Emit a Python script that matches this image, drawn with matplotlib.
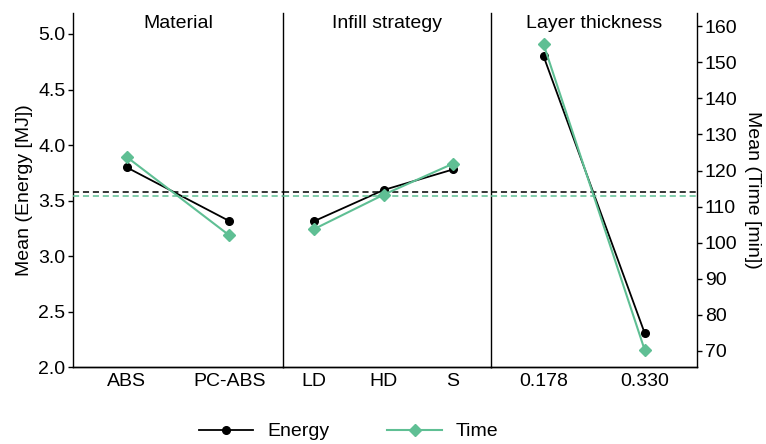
import matplotlib.pyplot as plt
from matplotlib.lines import Line2D

plt.rcParams['font.family'] = ['Liberation Sans', 'DejaVu Sans']

# factor levels
factors = ['Material', 'Infill strategy', 'Layer thickness']
levels = [['ABS', 'PC-ABS'], ['LD', 'HD', 'S'], ['0.178', '0.330']]

# mean energy [MJ] per level
energy = [[3.80, 3.315], [3.315, 3.595, 3.78], [4.80, 2.31]]
# mean time [min] per level
time = [[123.8, 102.0], [103.8, 113.3, 121.9], [155.0, 70.4]]

energy_mean = 3.58
time_mean = 112.9

black = '#000000'
green = '#5FBF94'
fs = 14

fig, axes = plt.subplots(1, 3, figsize=(7.66, 4.44), dpi=100, sharey=True,
                         gridspec_kw={'width_ratios': [210, 208, 206]})
fig.subplots_adjust(left=0.0953, right=0.91, top=0.971, bottom=0.173, wspace=0)

for i, ax in enumerate(axes):
    x = list(range(len(levels[i])))
    tw = ax.twinx()
    ax.plot(x, energy[i], color=black, marker='o', markersize=5.5, lw=1.3, zorder=3)
    tw.plot(x, time[i], color=green, marker='D', markersize=6, lw=1.5, zorder=3)
    ax.axhline(energy_mean, color=black, ls=(0, (4, 2.5)), lw=1.1)
    tw.axhline(time_mean, color=green, ls=(0, (4, 2.5)), lw=1.1)

    ax.set_ylim(2.0, 5.19)
    tw.set_ylim(65.5, 163.7)
    if len(x) == 2:
        ax.set_xlim(-0.52, 1.52)
    else:
        ax.set_xlim(-0.45, 2.55)
    ax.set_xticks(x)
    ax.set_xticklabels(levels[i])
    ax.tick_params(axis='x', length=0, pad=4, labelsize=fs)
    ax.text(0.5, 0.995, factors[i], transform=ax.transAxes, ha='center', va='top', fontsize=fs)

    for a in (ax, tw):
        a.spines['top'].set_visible(False)
        a.spines['left'].set_visible(False)
        a.spines['right'].set_visible(False)
        a.spines['bottom'].set_linewidth(1.0)
    tw.spines['right'].set_visible(True)
    tw.spines['right'].set_linewidth(1.0)

    if i == 0:
        ax.spines['left'].set_visible(True)
        ax.spines['left'].set_linewidth(1.0)
        ax.set_yticks([2.0, 2.5, 3.0, 3.5, 4.0, 4.5, 5.0])
        ax.set_yticklabels([f'{v:.1f}' for v in [2.0, 2.5, 3.0, 3.5, 4.0, 4.5, 5.0]])
        ax.tick_params(axis='y', length=3.5, width=1, pad=2, labelsize=fs)
        ax.set_ylabel('Mean (Energy [MJ])', fontsize=fs, labelpad=4)
    else:
        ax.tick_params(axis='y', left=False, labelleft=False)

    if i == 2:
        tw.set_yticks(range(70, 161, 10))
        tw.tick_params(axis='y', length=3.5, width=1, pad=2, labelsize=fs)
        tw.set_ylabel('Mean (Time [min])', fontsize=fs, rotation=270, labelpad=17)
    else:
        tw.tick_params(axis='y', right=False, labelright=False)

handles = [
    Line2D([], [], color=black, marker='o', markersize=5.5, lw=1.3),
    Line2D([], [], color=green, marker='D', markersize=6, lw=1.5),
]
fig.legend(handles, ['Energy', 'Time'], loc='center', bbox_to_anchor=(0.455, 0.028),
           ncol=2, frameon=False, fontsize=fs, handlelength=2.8, handletextpad=0.7,
           columnspacing=3.0)

fig.savefig('out.png', dpi=100)
